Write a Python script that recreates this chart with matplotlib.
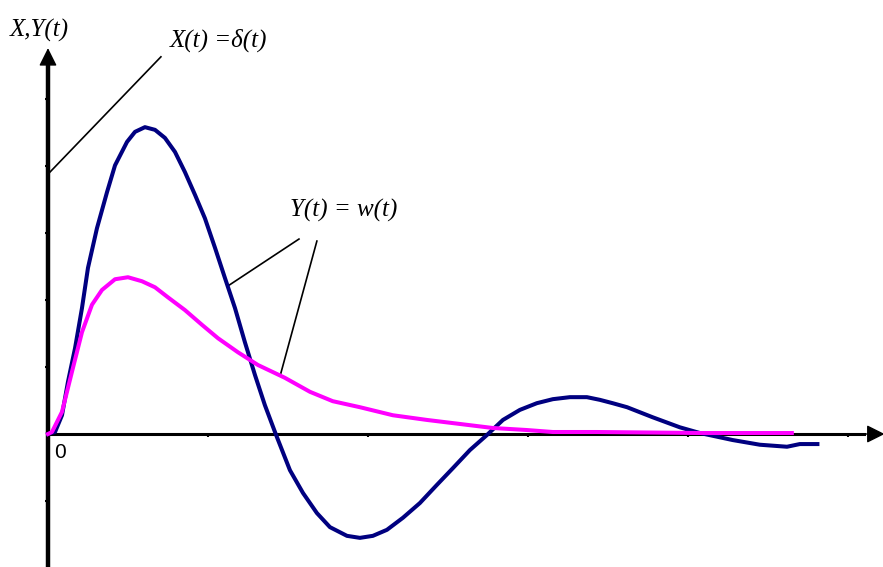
import matplotlib.pyplot as plt

# impulse response w(t) (navy) and response to the delta input (magenta)
t_x = [0, 0.044, 0.0875, 0.125, 0.169, 0.2125, 0.25, 0.306, 0.369, 0.419, 0.494,
       0.544, 0.606, 0.669, 0.731, 0.794, 0.856, 0.919, 0.981, 1.044, 1.106, 1.169,
       1.231, 1.294, 1.356, 1.419, 1.431, 1.5125, 1.594, 1.681, 1.7625, 1.869, 1.95,
       2.031, 2.119, 2.219, 2.325, 2.431, 2.531, 2.6375, 2.744, 2.844, 2.95, 3.056,
       3.156, 3.2625, 3.369, 3.45, 3.53, 3.62, 3.78, 3.95, 4.075, 4.28, 4.45, 4.62,
       4.70, 4.81]
x_vals = [0, 0.03, 0.28, 0.78, 1.28, 1.88, 2.48, 3.07, 3.61, 4.01, 4.36,
          4.51, 4.58, 4.54, 4.42, 4.21, 3.91, 3.57, 3.22, 2.78, 2.33, 1.88,
          1.37, 0.88, 0.43, 0.03, -0.045, -0.54, -0.88, -1.18, -1.39, -1.52, -1.55,
          -1.52, -1.43, -1.25, -1.03, -0.76, -0.51, -0.24, -0.015, 0.21, 0.36, 0.46,
          0.52, 0.55, 0.55, 0.51, 0.46, 0.40, 0.25, 0.10, 0.015, -0.09, -0.16, -0.19,
          -0.15, -0.15]

t_y = [0, 0.025, 0.0875, 0.15, 0.2125, 0.275, 0.3375, 0.419, 0.5, 0.5875, 0.669,
       0.75, 0.856, 0.9625, 1.0625, 1.1875, 1.3125, 1.48, 1.6375, 1.78, 1.95, 2.156,
       2.369, 2.575, 2.78, 2.99, 3.156, 3.43, 3.64, 4.08, 4.65]
y_vals = [0, 0.03, 0.33, 0.93, 1.52, 1.93, 2.15, 2.31, 2.34, 2.28, 2.19,
          2.04, 1.85, 1.63, 1.43, 1.22, 1.03, 0.84, 0.63, 0.49, 0.40, 0.28,
          0.21, 0.15, 0.09, 0.06, 0.03, 0.03, 0.025, 0.015, 0.015]

x_ticks = [1, 2, 3, 4, 5]
y_ticks = [-1, 1, 2, 3, 4, 5]

fig = plt.figure(figsize=(8.83, 5.67), dpi=100)
ax = fig.add_axes([0, 0, 1, 1])
ax.set_xlim(-0.3, 5.22)
ax.set_ylim(-1.985, 6.478)

# axes through the origin
for side in ['top', 'right']:
    ax.spines[side].set_visible(False)
ax.spines['left'].set_position(('data', 0))
ax.spines['bottom'].set_position(('data', 0))
ax.spines['left'].set_linewidth(3.2)
ax.spines['bottom'].set_linewidth(2.2)
ax.spines['left'].set_bounds(-2.1, 5.55)
ax.spines['bottom'].set_bounds(0, 5.1)
ax.set_xticks(x_ticks)
ax.set_yticks(y_ticks)
ax.tick_params(axis='both', direction='out', length=2.5, width=1.5,
               labelbottom=False, labelleft=False)

head = dict(arrowstyle='-|>,head_length=1.1,head_width=0.55', color='black',
            lw=1, shrinkA=0, shrinkB=0, mutation_scale=10)
ax.annotate('', xy=(0, 5.76), xytext=(0, 5.45), arrowprops=head, annotation_clip=False)
ax.annotate('', xy=(5.23, 0), xytext=(5.0, 0), arrowprops=head, annotation_clip=False)

ax.plot(t_x, x_vals, color='#000080', lw=2.9, zorder=3, solid_joinstyle='round')
ax.plot(t_y, y_vals, color='#ff00ff', lw=2.9, zorder=4, solid_joinstyle='round')

serif = ['Liberation Serif', 'DejaVu Serif']
ax.text(-0.2375, 6.03, 'X,Y(t)', family=serif, style='italic', fontsize=18, va='center')
ax.text(0.7625, 5.87, 'X(t) =δ(t)', family=serif, style='italic', fontsize=18, va='center')
ax.text(1.5125, 3.34, 'Y(t) = w(t)', family=serif, style='italic', fontsize=18, va='center')
ax.text(0.04, -0.27, '0', family=['Liberation Sans'], fontsize=15, va='center')

# leader lines
ax.plot([0.0125, 0.706], [3.91, 5.63], color='black', lw=1.2)
ax.plot([1.125, 1.569], [2.21, 2.91], color='black', lw=1.2)
ax.plot([1.456, 1.681], [0.91, 2.88], color='black', lw=1.2)

fig.savefig('out.png', dpi=100)
